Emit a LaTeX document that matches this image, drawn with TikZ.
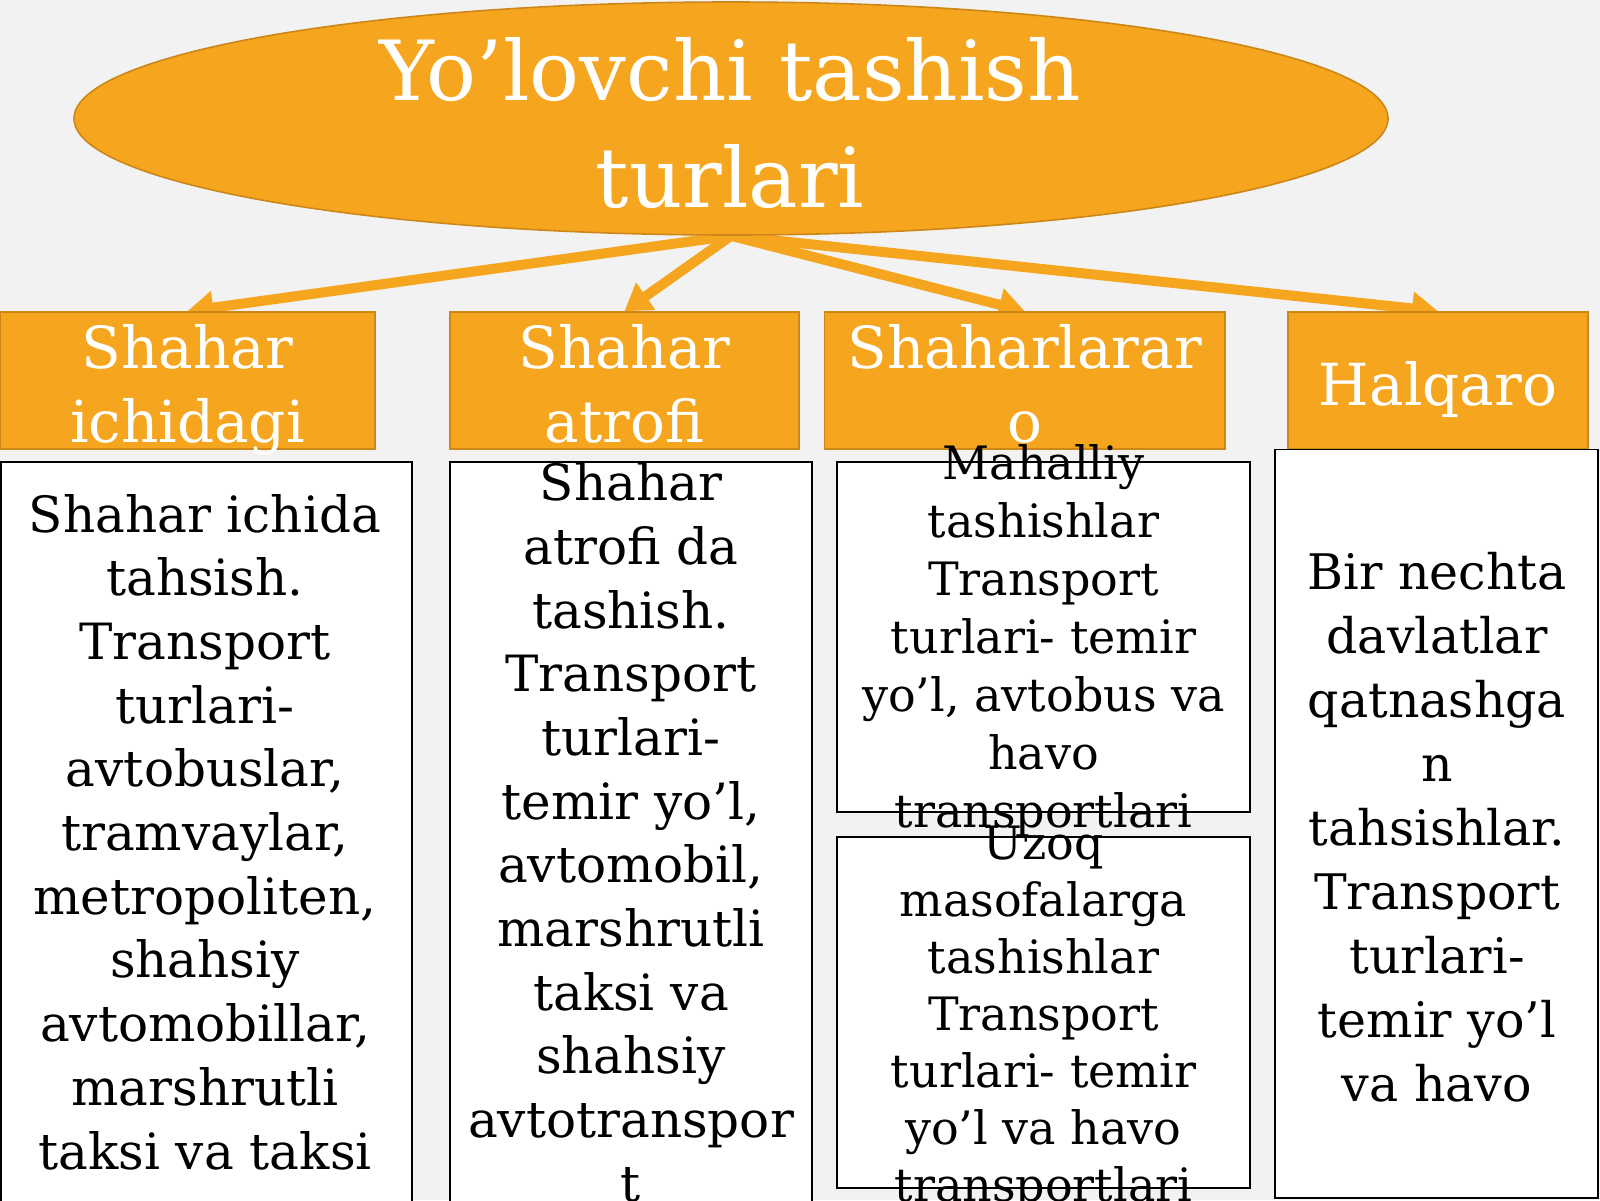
\documentclass[tikz,border=0pt]{standalone}
\usepackage{fontspec}
\setmainfont{DejaVu Serif}
\usetikzlibrary{shapes.geometric,arrows.meta}
\pgfdeclarelayer{back}
\pgfdeclarelayer{arrowlayer}
\pgfsetlayers{back,arrowlayer,main}
\definecolor{bgc}{RGB}{242,242,242}
\definecolor{orfill}{RGB}{246,165,30}
\definecolor{ordraw}{RGB}{205,135,25}
\tikzset{
  hdrbox/.style={rectangle, fill=orfill, draw=ordraw, line width=0.8pt, inner sep=0pt, minimum height=68.5pt},
  bodybox/.style={rectangle, fill=white, draw=black, line width=0.9pt, inner sep=0pt},
  txt/.style={anchor=base, inner sep=0pt, outer sep=0pt},
  conn/.style={draw=orfill, line width=5pt, -{Triangle[length=13pt,width=16pt]}},
}
\newcommand{\lns}[3]{\parbox[t]{460pt}{\centering\fontsize{#1}{#2}\selectfont #3}}
\begin{document}
\begin{tikzpicture}[x=0.5pt,y=-0.5pt]
\useasboundingbox (0,0) rectangle (1600,1200);
\begin{pgfonlayer}{back}
  \fill[bgc] (0,0) rectangle (1600,1200);
\end{pgfonlayer}

% root ellipse
\node[ellipse, fill=orfill, draw=ordraw, line width=0.8pt, inner sep=0pt,
      minimum width=657pt, minimum height=116.5pt] (root) at (731,118.5) {};
\node[txt, text=white] (title) at (730,100)
  {\lns{41.5pt}{53.5pt}{Yo’lovchi tashish\\turlari}};

% header boxes
\node[hdrbox, minimum width=187.5pt] (h1) at (187.5,380.5) {};
\node[hdrbox, minimum width=174.5pt] (h2) at (624.5,380.5) {};
\node[hdrbox, minimum width=200.25pt] (h3) at (1024.75,380.5) {};
\node[hdrbox, minimum width=150pt] (h4) at (1438,380.5) {};

\node[txt, text=white] (th1) at (187.5,368) {\lns{29pt}{37pt}{Shahar\\ichidagi}};
\node[txt, text=white] (th2) at (624.5,368) {\lns{29pt}{37pt}{Shahar\\atrofi}};
\node[txt, text=white] (th3) at (1024.75,368) {\lns{29pt}{37pt}{Shaharlarar\\o}};
\node[txt, text=white] (th4) at (1438,405) {\lns{29pt}{37pt}{Halqaro}};

% connectors
\begin{pgfonlayer}{arrowlayer}
  \draw[conn] (root.south) -- (h1.north);
  \draw[conn] (root.south) -- (h2.north);
  \draw[conn] (root.south) -- (h3.north);
  \draw[conn] (root.south) -- (h4.north);
\end{pgfonlayer}

% body boxes
\node[bodybox, minimum width=205.5pt, minimum height=374pt] (b1) at (206.5,836) {};
\node[bodybox, minimum width=181pt, minimum height=374pt] (b2) at (631,836) {};
\node[bodybox, minimum width=206.5pt, minimum height=175pt] (b3) at (1043.5,637) {};
\node[bodybox, minimum width=206.5pt, minimum height=175.5pt] (b5) at (1043.5,1012.5) {};
\node[bodybox, minimum width=161.5pt, minimum height=374.25pt] (b4) at (1436.5,823.75) {};

\node[txt] (t1) at (205,532) {\lns{25pt}{31.85pt}{Shahar ichida\\tahsish.\\Transport\\turlari-\\avtobuslar,\\tramvaylar,\\metropoliten,\\shahsiy\\avtomobillar,\\marshrutli\\taksi va taksi}};
\node[txt] (t2) at (631,500.6) {\lns{25pt}{31.85pt}{Shahar\\atrofi da\\tashish.\\Transport\\turlari-\\temir yo’l,\\avtomobil,\\marshrutli\\taksi va\\shahsiy\\avtotranspor\\t}};
\node[txt] (t3) at (1043.5,479) {\lns{23pt}{29pt}{Mahalliy\\tashishlar\\Transport\\turlari- temir\\yo’l, avtobus va\\havo\\transportlari}};
\node[txt] (t5) at (1043.5,859) {\lns{23pt}{28.5pt}{Uzoq\\masofalarga\\tashishlar\\Transport\\turlari- temir\\yo’l va havo\\transportlari}};
\node[txt] (t4) at (1437,589) {\lns{24.5pt}{32pt}{Bir nechta\\davlatlar\\qatnashga\\n\\tahsishlar.\\Transport\\turlari-\\temir yo’l\\va havo}};
\end{tikzpicture}
\end{document}
